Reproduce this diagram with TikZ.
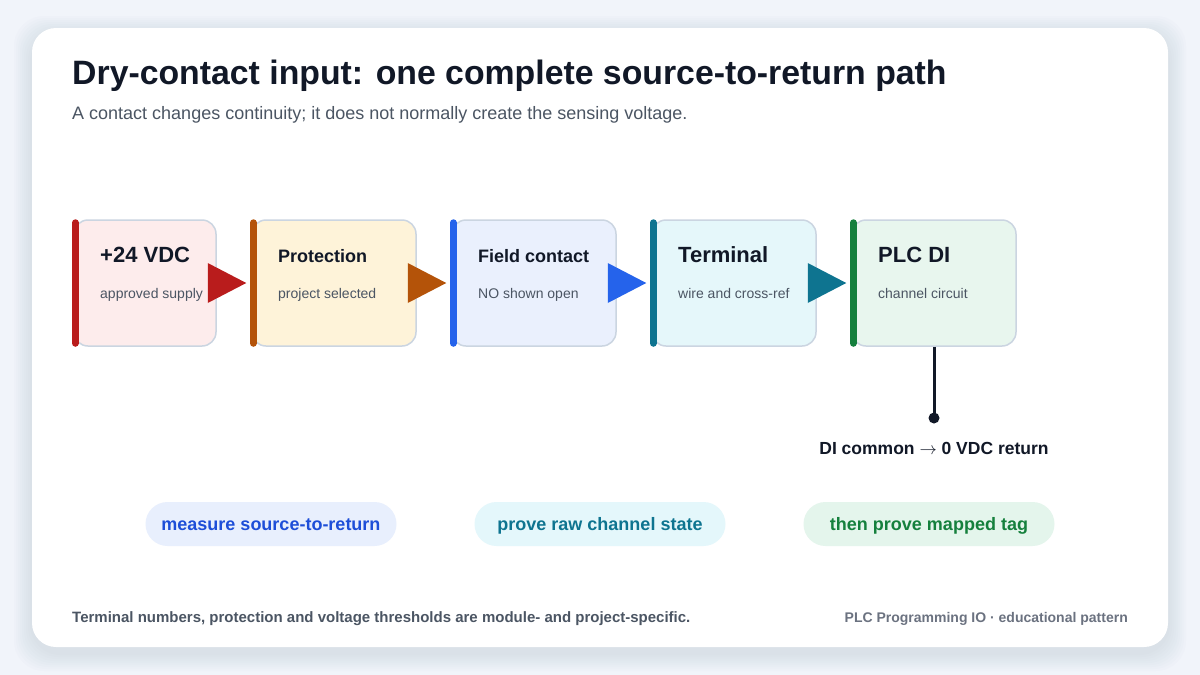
\documentclass[tikz,border=0pt]{standalone}
\usepackage{fontspec}
\setmainfont{Liberation Sans}
\usetikzlibrary{calc}
\definecolor{bg}{HTML}{F1F4FA}
\definecolor{shadowc}{HTML}{64748B}
\definecolor{ink}{HTML}{111827}
\definecolor{subink}{HTML}{4B5563}
\definecolor{footink}{HTML}{4B5563}
\definecolor{footink2}{HTML}{6B7280}
\definecolor{boxline}{HTML}{CBD5E1}
\definecolor{redc}{HTML}{B91C1C}\definecolor{redf}{HTML}{FDECEC}
\definecolor{ambc}{HTML}{B45309}\definecolor{ambf}{HTML}{FEF3D9}
\definecolor{bluc}{HTML}{2563EB}\definecolor{bluf}{HTML}{EAF0FD}
\definecolor{tealc}{HTML}{0E7490}\definecolor{tealf}{HTML}{E5F7FA}
\definecolor{grnc}{HTML}{15803D}\definecolor{grnf}{HTML}{E8F6EE}
\definecolor{pillb}{HTML}{E8EFFD}\definecolor{pillbt}{HTML}{1D4ED8}
\definecolor{pillt}{HTML}{E4F7FB}\definecolor{pilltt}{HTML}{0E7490}
\definecolor{pillg}{HTML}{E4F5EC}\definecolor{pillgt}{HTML}{15803D}
\tikzset{
  stagebox/.style={draw=boxline, line width=1.5pt, rounded corners=14pt, minimum height=126pt, inner sep=0pt},
  stagebar/.style={line width=7pt, line cap=round},
  stagettl/.style={anchor=base west, inner sep=0pt, text=ink, font=\bfseries\fontsize{22}{26}\selectfont},
  stagettlsm/.style={anchor=base west, inner sep=0pt, text=ink, font=\bfseries\fontsize{18}{22}\selectfont},
  stagesub/.style={anchor=base west, inner sep=0pt, text=subink, font=\fontsize{14}{17}\selectfont},
  pillbox/.style={rounded corners=22pt, minimum width=251pt, minimum height=44pt, inner sep=0pt},
  pilltxt/.style={anchor=base, inner sep=0pt, font=\bfseries\fontsize{18}{21}\selectfont},
}
\begin{document}
\begin{tikzpicture}[x=1pt,y=-1pt]
\useasboundingbox (0,0) rectangle (1200,675);
\fill[bg] (0,0) rectangle (1200,675);
% card shadow
\foreach \s in {2,4,...,18}{
  \fill[shadowc, opacity=0.015, rounded corners=30pt] (32-\s,34-\s) rectangle (1168+\s,653+\s);
}
\fill[white, rounded corners=24pt] (32,28) rectangle (1168,647);

% title
\node[anchor=base west, inner sep=0pt, text=ink, font=\bfseries\fontsize{33.8}{40}\selectfont] (title) at (72,84) {Dry-contact input: one complete source-to-return path};
\node[anchor=base west, inner sep=0pt, text=subink, font=\fontsize{18}{22}\selectfont] (subtitle) at (72,119) {A contact changes continuity; it does not normally create the sensing voltage.};

% stage boxes
\node[stagebox, fill=redf, minimum width=142pt] (b1) at (145,283) {};
\node[stagebox, fill=ambf, minimum width=164pt] (b2) at (334,283) {};
\node[stagebox, fill=bluf, minimum width=164pt] (b3) at (534,283) {};
\node[stagebox, fill=tealf, minimum width=164pt] (b4) at (734,283) {};
\node[stagebox, fill=grnf, minimum width=164pt] (b5) at (934,283) {};

% bars
\draw[stagebar, redc] ($(b1.north west)+(2,3.5)$) -- ($(b1.south west)+(2,-3.5)$);
\draw[stagebar, ambc] ($(b2.north west)+(2,3.5)$) -- ($(b2.south west)+(2,-3.5)$);
\draw[stagebar, bluc] ($(b3.north west)+(2,3.5)$) -- ($(b3.south west)+(2,-3.5)$);
\draw[stagebar, tealc] ($(b4.north west)+(2,3.5)$) -- ($(b4.south west)+(2,-3.5)$);
\draw[stagebar, grnc] ($(b5.north west)+(2,3.5)$) -- ($(b5.south west)+(2,-3.5)$);

% texts
\node[stagettl] (t1) at (100,262) {+24 VDC};
\node[stagesub] (s1) at (100,298) {approved supply};
\node[stagettlsm] (t2) at (278,262) {Protection};
\node[stagesub] (s2) at (278,298) {project selected};
\node[stagettlsm] (t3) at (478,262) {Field contact};
\node[stagesub] (s3) at (478,298) {NO shown open};
\node[stagettl] (t4) at (678,262) {Terminal};
\node[stagesub] (s4) at (678,298) {wire and cross-ref};
\node[stagettl] (t5) at (878,262) {PLC DI};
\node[stagesub] (s5) at (878,298) {channel circuit};

% arrow connectors
\fill[redc] ($(b1.east)+(-9,-20)$) -- ($(b2.west)+(-5,0)$) -- ($(b1.east)+(-9,20)$) -- cycle;
\fill[ambc] ($(b2.east)+(-9,-20)$) -- ($(b3.west)+(-5,0)$) -- ($(b2.east)+(-9,20)$) -- cycle;
\fill[bluc] ($(b3.east)+(-9,-20)$) -- ($(b4.west)+(-5,0)$) -- ($(b3.east)+(-9,20)$) -- cycle;
\fill[tealc] ($(b4.east)+(-9,-20)$) -- ($(b5.west)+(-5,0)$) -- ($(b4.east)+(-9,20)$) -- cycle;

% return
\coordinate (ret) at (934,418);
\draw[ink, line width=3pt] (b5.south) -- (ret);
\fill[ink] (ret) circle (5.5pt);
\node[anchor=base, inner sep=0pt, text=ink, font=\bfseries\fontsize{17.5}{21}\selectfont] (retlbl) at (934,454) {DI common $\rightarrow$ 0 VDC return};

% pills
\node[pillbox, fill=pillb] (p1) at (271,524) {};
\node[pilltxt, text=pillbt] (p1t) at (271,530) {measure source-to-return};
\node[pillbox, fill=pillt] (p2) at (600,524) {};
\node[pilltxt, text=pilltt] (p2t) at (600,530) {prove raw channel state};
\node[pillbox, fill=pillg] (p3) at (929,524) {};
\node[pilltxt, text=pillgt] (p3t) at (929,530) {then prove mapped tag};

% footer
\node[anchor=base west, inner sep=0pt, text=footink, font=\bfseries\fontsize{15}{18}\selectfont] (footl) at (72,622) {Terminal numbers, protection and voltage thresholds are module- and project-specific.};
\node[anchor=base east, inner sep=0pt, text=footink2, font=\bfseries\fontsize{14}{17}\selectfont] (footr) at (1128,622) {PLC Programming IO · educational pattern};
\end{tikzpicture}
\end{document}
